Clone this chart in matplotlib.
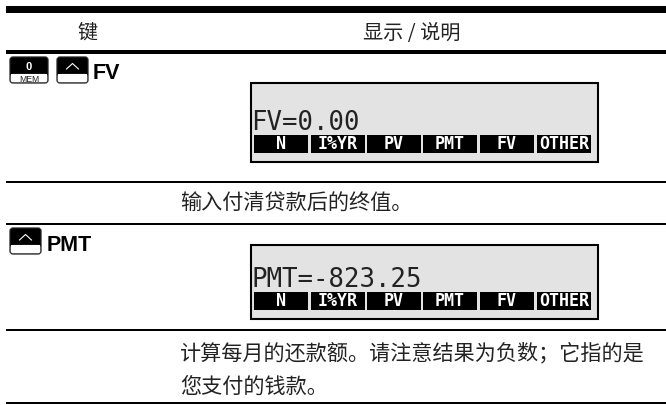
import matplotlib
matplotlib.use('Agg')
import matplotlib.pyplot as plt
from matplotlib.patches import Rectangle, FancyBboxPatch

plt.rcParams['font.family'] = ['Noto Sans CJK SC', 'DejaVu Sans']

# 表格内容
header_labels = ['键', '显示 / 说明']
key_names = ['FV', 'PMT']
lcd_texts = ['FV=0.00', 'PMT=-823.25']
soft_keys = ['N', 'I%YR', 'PV', 'PMT', 'FV', 'OTHER']
notes = [['输入付清贷款后的终值。'],
         ['计算每月的还款额。请注意结果为负数；它指的是', '您支付的钱款。']]

W, H = 666, 406
LCD_GRAY = '#e3e3e3'

# 横线: (上边, 下边)
rules = [(7, 14), (51, 55), (182, 184), (224, 226), (330, 332), (403, 405)]
RULE_X0, RULE_X1 = 6, 666
lcd_boxes = [(84, 163), (246, 320)]
lcd_baselines = [130, 287]
soft_x0 = [254, 311, 367, 423, 480, 537]
soft_w = 53.5


def draw_key(ax, x0, x1, y0, y1, top, bottom):
    """计算器按键图标"""
    mid = y0 + (y1 - y0) * 0.64
    ax.add_patch(FancyBboxPatch((x0 + 1, y0 + 1), x1 - x0 - 2, y1 - y0 - 2,
                                boxstyle='round,pad=0,rounding_size=3', fc='black', ec='#222222', lw=0.9))
    ax.add_patch(FancyBboxPatch((x0 + 1.7, mid), x1 - x0 - 3.4, y1 - mid - 1.7,
                                boxstyle='round,pad=0,rounding_size=2', fc='white', ec='none'))
    ax.add_patch(Rectangle((x0 + 1.7, mid), x1 - x0 - 3.4, 3, fc='white', ec='none'))
    xc = (x0 + x1) / 2
    if top == '^':
        ax.plot([xc - 6, xc, xc + 6], [y0 + 13, y0 + 7.5, y0 + 13], color='white', lw=0.8)
    else:
        ax.text(xc, y0 + 10, top, color='white', fontsize=8, fontweight='bold',
                family='Liberation Sans', ha='center', va='center')
    if bottom:
        ax.text(xc, y0 + 23, bottom, color='#222222', fontsize=6.2, family='Liberation Sans',
                ha='center', va='center')


def draw_lcd(ax, y0, y1, baseline, text):
    ax.add_patch(Rectangle((250.5, y0), 347, y1 - y0, fc=LCD_GRAY, ec='black', lw=1.5))
    ax.text(251, baseline, text, family='DejaVu Sans Mono', fontsize=18.5, color='#222222',
            ha='left', va='baseline')
    sy = baseline + 5.5
    for x, label in zip(soft_x0, soft_keys):
        ax.add_patch(Rectangle((x, sy), soft_w, 18, fc='black', ec='none'))
        ax.text(x + soft_w / 2, sy + 9, label, family='DejaVu Sans Mono', fontweight='bold',
                fontsize=12, color='white', ha='center', va='center')


fig = plt.figure(figsize=(W / 100, H / 100), dpi=100)
ax = fig.add_axes([0, 0, 1, 1])
ax.set_xlim(0, W)
ax.set_ylim(H, 0)
ax.axis('off')

for top, bottom in rules:
    ax.add_patch(Rectangle((RULE_X0, top), RULE_X1 - RULE_X0, bottom - top, fc='black', ec='none'))

# 表头
ax.text(88, 33, header_labels[0], fontsize=14.5, color='#222222', ha='center', va='center')
ax.text(412, 33, header_labels[1], fontsize=14.5, color='#222222', ha='center', va='center')

# 第一行
draw_key(ax, 9, 49, 57, 85, '0', 'MEM')
draw_key(ax, 56, 89, 57, 85, '^', '')
ax.text(93, 73.5, key_names[0], family='Liberation Sans', fontweight='bold', fontsize=15.5,
        ha='left', va='center', color='black')
draw_lcd(ax, lcd_boxes[0][0], lcd_boxes[0][1], lcd_baselines[0], lcd_texts[0])
ax.text(180, 204, notes[0][0], fontsize=15.2, color='#222222', ha='left', va='center')

# 第二行
draw_key(ax, 9, 42, 228, 256, '^', '')
ax.text(47, 245.5, key_names[1], family='Liberation Sans', fontweight='bold', fontsize=15.5,
        ha='left', va='center', color='black')
draw_lcd(ax, lcd_boxes[1][0], lcd_boxes[1][1], lcd_baselines[1], lcd_texts[1])
ax.text(180, 353, notes[1][0], fontsize=15.2, color='#222222', ha='left', va='center')
ax.text(180, 387, notes[1][1], fontsize=15.2, color='#222222', ha='left', va='center')

plt.savefig('out.png', dpi=100)
plt.close()
